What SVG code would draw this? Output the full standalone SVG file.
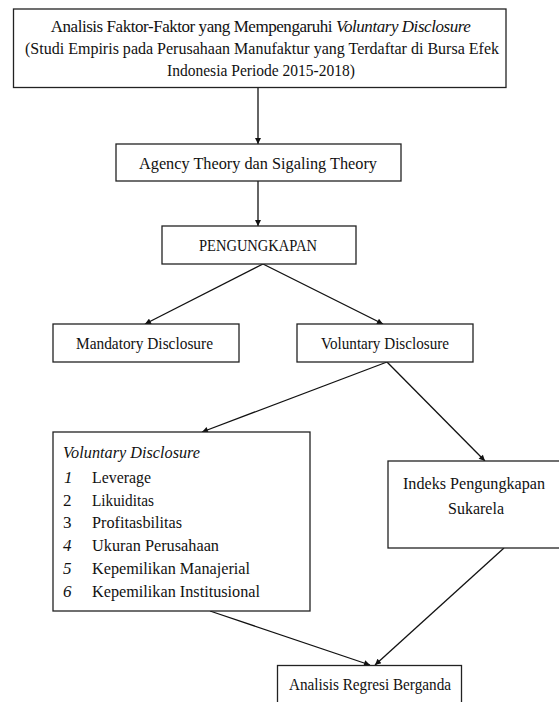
<svg xmlns="http://www.w3.org/2000/svg" width="559" height="702" viewBox="0 0 559 702">
<style>
.box{fill:#fff;stroke:#222;stroke-width:1.3}
.t{font-family:"Liberation Serif","Times New Roman",serif;fill:#111;font-size:17px}
.i{font-style:italic}
.ln{fill:none;stroke:#111;stroke-width:1.3;marker-end:url(#ah)}
</style>
<defs>
<marker id="ah" viewBox="0 0 10 10" refX="10" refY="5" markerWidth="7" markerHeight="6" markerUnits="userSpaceOnUse" orient="auto">
<path d="M0,0 L10,5 L0,10 z" fill="#111"/>
</marker>
</defs>
<rect width="559" height="702" fill="#fff"/>
<g id="connectors">
<path class="ln" d="M258,87.5 L258,144"/>
<path class="ln" d="M258,181 L258,226"/>
<path class="ln" d="M263,264 L145,324"/>
<path class="ln" d="M263,264 L383,324"/>
<path class="ln" d="M387,362 L202,432"/>
<path class="ln" d="M387,362 L485,461"/>
<path class="ln" d="M210,611 L370,665"/>
<path class="ln" d="M504,548 L375,665"/>
</g>
<g id="title">
<rect class="box" x="13.5" y="9" width="492.5" height="78.5"/>
<text class="t" x="260.5" y="32" font-size="15" letter-spacing="-0.45" text-anchor="middle">Analisis Faktor-Faktor yang Mempengaruhi <tspan class="i">Voluntary Disclosure</tspan></text>
<text class="t" x="25" y="54" font-size="16" textLength="474" lengthAdjust="spacingAndGlyphs">(Studi Empiris pada Perusahaan Manufaktur yang Terdaftar di Bursa Efek</text>
<text class="t" x="167" y="76" font-size="16" textLength="188" lengthAdjust="spacingAndGlyphs">Indonesia Periode 2015-2018)</text>
</g>
<g id="theory">
<rect class="box" x="116" y="144" width="285" height="37"/>
<text class="t" x="139" y="169" font-size="19" textLength="238" lengthAdjust="spacingAndGlyphs">Agency Theory dan Sigaling Theory</text>
</g>
<g id="pengungkapan">
<rect class="box" x="162" y="226" width="194" height="38"/>
<text class="t" x="199" y="251" textLength="118" lengthAdjust="spacingAndGlyphs">PENGUNGKAPAN</text>
</g>
<g id="mandatory">
<rect class="box" x="53" y="324" width="186" height="38"/>
<text class="t" x="76" y="348.5" textLength="137" lengthAdjust="spacingAndGlyphs">Mandatory Disclosure</text>
</g>
<g id="voluntary">
<rect class="box" x="297" y="324" width="176" height="38"/>
<text class="t" x="321" y="348.5" textLength="128" lengthAdjust="spacingAndGlyphs">Voluntary Disclosure</text>
</g>
<g id="variables">
<rect class="box" x="53" y="432" width="257" height="179"/>
<text class="t i" x="63" y="457.5" textLength="137" lengthAdjust="spacingAndGlyphs">Voluntary Disclosure</text>
<text class="t i" x="64" y="483">1</text>
<text class="t" x="92" y="483" textLength="59" lengthAdjust="spacingAndGlyphs">Leverage</text>
<text class="t" x="63" y="505.7">2</text>
<text class="t" x="92" y="505.7" textLength="62" lengthAdjust="spacingAndGlyphs">Likuiditas</text>
<text class="t" x="63" y="528.4">3</text>
<text class="t" x="92" y="528.4" textLength="90" lengthAdjust="spacingAndGlyphs">Profitasbilitas</text>
<text class="t i" x="63" y="551.1">4</text>
<text class="t" x="92" y="551.1" textLength="127" lengthAdjust="spacingAndGlyphs">Ukuran Perusahaan</text>
<text class="t i" x="63" y="573.8">5</text>
<text class="t" x="92" y="573.8" textLength="158" lengthAdjust="spacingAndGlyphs">Kepemilikan Manajerial</text>
<text class="t i" x="63" y="596.5">6</text>
<text class="t" x="92" y="596.5" textLength="168" lengthAdjust="spacingAndGlyphs">Kepemilikan Institusional</text>
</g>
<g id="indeks">
<rect class="box" x="388" y="461" width="180" height="87"/>
<text class="t" x="403" y="488.5" textLength="142" lengthAdjust="spacingAndGlyphs">Indeks Pengungkapan</text>
<text class="t" x="448" y="513.5" textLength="56" lengthAdjust="spacingAndGlyphs">Sukarela</text>
</g>
<g id="regresi">
<rect class="box" x="277.5" y="665.5" width="184" height="50"/>
<text class="t" x="289" y="690" textLength="162" lengthAdjust="spacingAndGlyphs">Analisis Regresi Berganda</text>
</g>
</svg>
